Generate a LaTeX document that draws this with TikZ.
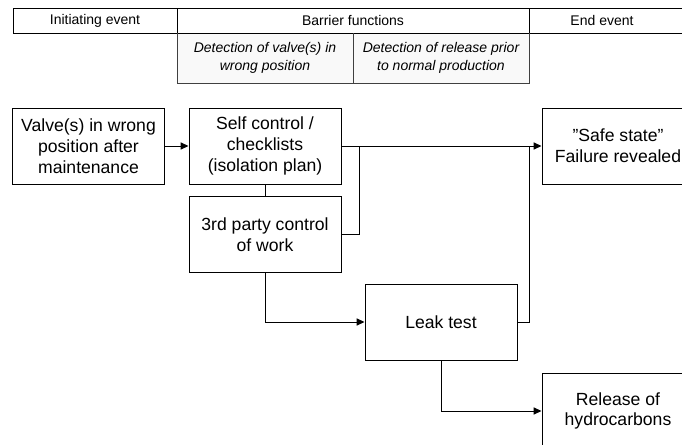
\documentclass[tikz,border=0pt]{standalone}
\usepackage{fontspec}
\setmainfont{Liberation Sans}
\usetikzlibrary{arrows.meta}

\tikzset{
	eventbox/.style={draw, line width=0.5pt, minimum width=76pt, minimum height=38pt,
		inner sep=0pt, align=center, font=\fontsize{8.8}{10.4}\selectfont},
	headtext/.style={font=\fontsize{7}{8.5}\selectfont},
	subtext/.style={align=center, font=\fontsize{7}{8.85}\selectfont\itshape},
	flow/.style={line width=0.5pt, -{Triangle[length=4pt,width=3.6pt]}},
	joint/.style={line width=0.5pt}
}

\begin{document}
\begin{tikzpicture}[x=0.5pt, y=-0.5pt]
		\clip (0,0) rectangle (682,445);
		%----------------------------------------------------
		% Header row and the grey barrier cells
		%----------------------------------------------------
		\fill[gray!5] (177,33) rectangle (529,83);
		\draw[joint] (13,8) rectangle (700,33);
		\draw[joint, black!75] (177,33) -- (177,83) -- (529,83) -- (529,33);
		\draw[joint] (177,8) -- (177,33);
		\draw[joint] (529,8) -- (529,33);
		\draw[joint, black!75] (353,33) -- (353,83);
		\node[headtext] (init) at (95,20.5) {Initiating event};
		\node[headtext] (barrier) at (353,20.5) {Barrier functions};
		\node[headtext] (endev) at (602,20.5) {End event};
		\node[subtext] (detvalve) at (265,58) {Detection of valve(s) in\\wrong position};
		\node[subtext] (detrelease) at (441,58) {Detection of release prior\\to normal production};

		%----------------------------------------------------
		% Event boxes
		%----------------------------------------------------
		\node[eventbox] (valve) at (88.5,146) {Valve(s) in wrong\\position after\\maintenance};
		\node[eventbox] (self) at (265,146) {Self control /\\checklists\\(isolation plan)};
		\node[eventbox] (third) at (265,234.5) {3rd party control\\of work};
		\node[eventbox] (leak) at (441,322) {Leak test};
		\node[eventbox] (safe) at (618,146) {”Safe state”\\Failure revealed};
		\node[eventbox] (release) at (618,411) {Release of\\hydrocarbons};

		\coordinate (jthird) at (359,146);
		\coordinate (jleak) at (529,146);

		%----------------------------------------------------
		% Connectors
		%----------------------------------------------------
		\draw[flow] (valve) -- (self);
		\draw[flow] (self) -- (safe);
		\draw[joint] (self) -- (third);
		\draw[joint] (third.east) -| (jthird);
		\draw[flow] (third.south) |- (leak.west);
		\draw[joint] (leak.east) -| (jleak);
		\draw[flow] (leak.south) |- (release.west);
	\end{tikzpicture}
\end{document}
